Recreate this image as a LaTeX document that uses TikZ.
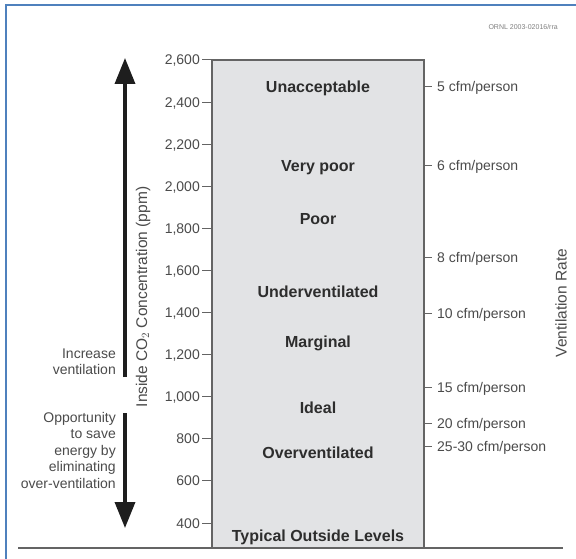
\documentclass[tikz,border=0pt]{standalone}
\usepackage{fontspec}
\setmainfont{Liberation Sans}
\usetikzlibrary{arrows.meta,positioning}

\definecolor{framblue}{RGB}{79,129,189}
\definecolor{panelgray}{RGB}{226,227,229}
\definecolor{edgegray}{RGB}{100,100,100}
\definecolor{labelgray}{RGB}{75,75,75}
\definecolor{darktext}{RGB}{45,45,45}
\definecolor{arrowblack}{RGB}{30,30,30}

\begin{document}
\begin{tikzpicture}[x=1pt,y=-1pt,
    ppmtick/.style={draw=edgegray,line width=1pt},
    ticklabel/.style={font=\fontsize{14}{16}\selectfont,text=labelgray,inner sep=0pt},
    zonelabel/.style={font=\fontsize{16}{18}\selectfont\bfseries,text=darktext,inner sep=0pt},
    sidenote/.style={font=\fontsize{14}{16.5}\selectfont,text=labelgray,inner sep=0pt,align=right},
    axislabel/.style={font=\fontsize{15.5}{18}\selectfont,text=labelgray,inner sep=0pt,rotate=90},
    bigarrow/.style={draw=arrowblack,line width=3.5pt,-{Triangle[width=20pt,length=26pt]}}]

  \useasboundingbox[fill=white] (0,0) rectangle (576,559);
  \draw[framblue,line width=1.5pt] (6,5) rectangle (600,600);

  \node[font=\fontsize{7}{8}\selectfont,text=gray,anchor=east,inner sep=0pt] (ornl) at (558,27) {ORNL 2003-02016/rra};

  % the panel and the base line
  \filldraw[fill=panelgray,draw=edgegray,line width=1.5pt] (212,548) -- (212,60) -- (424,60) -- (424,548);
  \coordinate (baseL) at (18,548);
  \coordinate (baseR) at (563,548);
  \draw[edgegray,line width=1.5pt] (baseL) -- (baseR);

  % ppm scale
  \foreach \v/\t in {2600/{2,600},2400/{2,400},2200/{2,200},2000/{2,000},1800/{1,800},1600/{1,600},
                     1400/{1,400},1200/{1,200},1000/{1,000},800/800,600/600,400/400} {
    \pgfmathsetmacro\yy{60+(2600-\v)*0.2105}
    \draw[ppmtick] (202,\yy) -- (212,\yy);
    \node[ticklabel,anchor=base east] (ppm\v) at (200,\yy+5) {\t};
  }

  % ventilation rates
  \foreach \y/\r [count=\i] in {87/5,166/6,257/8,313/10,387/15,423/20,446/25-30} {
    \draw[ppmtick] (424,\y) -- (432,\y);
    \node[ticklabel,anchor=base west] (rate\i) at (437,\y+5) {\r\ cfm/person};
  }

  % zones
  \foreach \y/\z [count=\i] in {87/Unacceptable,166/Very poor,219/Poor,292/Underventilated,
                                342/Marginal,408/Ideal,453/Overventilated,536/Typical Outside Levels} {
    \node[zonelabel,anchor=base] (zone\i) at (318,\y+5.5) {\z};
  }

  \node[axislabel] (ylab) at (143,297) {Inside CO$_2$ Concentration (ppm)};
  \node[axislabel] (vlab) at (561,303) {Ventilation Rate};

  % arrows
  \coordinate (upfrom) at (125,377);
  \coordinate (upto) at (125,58);
  \coordinate (downfrom) at (125,413);
  \coordinate (downto) at (125,528);
  \draw[bigarrow] (upfrom) -- (upto);
  \draw[bigarrow] (downfrom) -- (downto);

  \node[sidenote,anchor=east] (more) at (116,362) {Increase\\ventilation};
  \node[sidenote,anchor=east] (save) at (116,450) {Opportunity\\to save\\energy by\\eliminating\\over-ventilation};

\end{tikzpicture}
\end{document}
